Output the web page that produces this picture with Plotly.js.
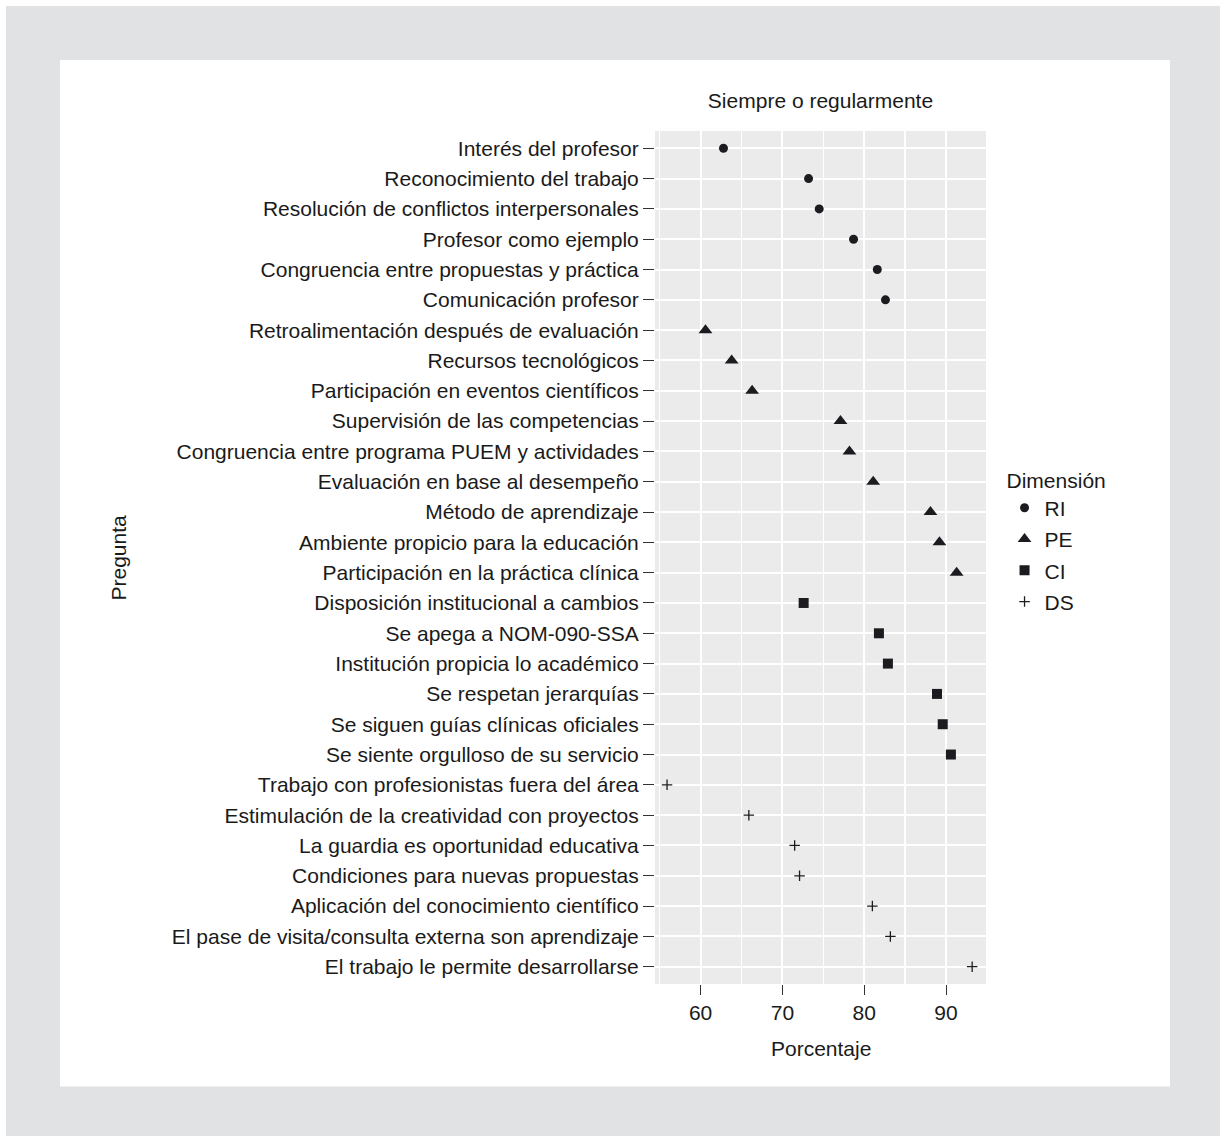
<!DOCTYPE html>
<html>
<head>
<meta charset="utf-8">
<script src="https://cdn.plot.ly/plotly-3.0.1.min.js"></script>
<style>html,body{margin:0;padding:0;background:#fff;}#chart{width:1220px;height:1136px;}</style>
</head>
<body>
<div id="chart"></div>
<script>
const riLabels = ["Interés del profesor","Reconocimiento del trabajo","Resolución de conflictos interpersonales","Profesor como ejemplo","Congruencia entre propuestas y práctica","Comunicación profesor"];
const riValues = [62.8, 73.2, 74.5, 78.7, 81.6, 82.6];
const peLabels = ["Retroalimentación después de evaluación","Recursos tecnológicos","Participación en eventos científicos","Supervisión de las competencias","Congruencia entre programa PUEM y actividades","Evaluación en base al desempeño","Método de aprendizaje","Ambiente propicio para la educación","Participación en la práctica clínica"];
const peValues = [60.6, 63.8, 66.3, 77.1, 78.2, 81.1, 88.1, 89.2, 91.3];
const ciLabels = ["Disposición institucional a cambios","Se apega a NOM-090-SSA","Institución propicia lo académico","Se respetan jerarquías","Se siguen guías clínicas oficiales","Se siente orgulloso de su servicio"];
const ciValues = [72.6, 81.8, 82.9, 88.9, 89.6, 90.6];
const dsLabels = ["Trabajo con profesionistas fuera del área","Estimulación de la creatividad con proyectos","La guardia es oportunidad educativa","Condiciones para nuevas propuestas","Aplicación del conocimiento científico","El pase de visita/consulta externa son aprendizaje","El trabajo le permite desarrollarse"];
const dsValues = [55.9, 65.9, 71.5, 72.1, 81.0, 83.2, 93.2];
const seriesNames = ["RI","PE","CI","DS"];
const xTickVals = [60, 70, 80, 90];

const allLabels = riLabels.concat(peLabels, ciLabels, dsLabels);
const ink = "#1c1c20";
const font = "Liberation Sans, Arial, Helvetica, sans-serif";
const fs = 21;

function tr(name, labels, values, symbol, size, extra) {
  const m = Object.assign({symbol: symbol, size: size, color: ink, line: {width: 0}}, extra || {});
  return {type: "scatter", mode: "markers", name: name, x: values, y: labels,
          marker: m, legendgroup: name, hoverinfo: "x+y"};
}
const data = [
  tr(seriesNames[0], riLabels, riValues, "circle", 9),
  tr(seriesNames[1], peLabels, peValues, "triangle-up", 12),
  tr(seriesNames[2], ciLabels, ciValues, "square", 10),
  tr(seriesNames[3], dsLabels, dsValues, "cross-thin-open", 7.5, {line: {width: 1.3, color: "#2a2a2a"}})
];

const layout = {
  width: 1220, height: 1136,
  paper_bgcolor: "#ffffff",
  plot_bgcolor: "#ebebeb",
  margin: {l: 655, r: 234, t: 131, b: 152, pad: 0},
  font: {family: font, size: fs, color: "#1a1a1a"},
  showlegend: true,
  title: {text: "Siempre o regularmente", font: {family: font, size: fs, color: "#1a1a1a"},
          x: 0.5, xref: "paper", y: 1 - 101/1136, yref: "container", xanchor: "center", yanchor: "middle"},
  xaxis: {range: [54.43, 94.89], tickvals: xTickVals, ticktext: xTickVals.map(String),
          showgrid: true, gridcolor: "#ffffff", gridwidth: 2,
          minor: {tickvals: [55, 65, 75, 85], showgrid: true, gridcolor: "#ffffff", gridwidth: 1.2, ticks: ""},
          ticks: "outside", ticklen: 10, tickwidth: 1, tickcolor: "#333333",
          tickfont: {family: font, size: fs, color: "#1a1a1a"},
          zeroline: false, showline: false, fixedrange: true},
  yaxis: {type: "category", categoryorder: "array", categoryarray: allLabels,
          range: [allLabels.length - 1 + 0.57, -0.57],
          showgrid: true, gridcolor: "#ffffff", gridwidth: 2,
          ticks: "outside", ticklen: 11, tickwidth: 1, tickcolor: "#333333",
          tickfont: {family: font, size: fs, color: "#1a1a1a"},
          zeroline: false, showline: false, fixedrange: true},
  legend: {x: 1.056, xanchor: "left", y: 0.614, yanchor: "top",
           title: {text: "Dimensión", font: {family: font, size: fs, color: "#1a1a1a"}},
           font: {family: font, size: fs, color: "#1a1a1a"},
           bgcolor: "rgba(0,0,0,0)", traceorder: "grouped", tracegroupgap: 1, itemwidth: 30},
  annotations: [
    {text: "Pregunta", xref: "paper", yref: "paper", x: (118 - 655) / 331, y: 0.5, textangle: -90,
     showarrow: false, xanchor: "center", yanchor: "middle", font: {family: font, size: fs, color: "#1a1a1a"}},
    {text: "Porcentaje", xref: "paper", yref: "paper", x: 0.5, y: -(1048 - 984) / 853,
     showarrow: false, xanchor: "center", yanchor: "middle", font: {family: font, size: fs, color: "#1a1a1a"}}
  ]
};

Plotly.newPlot("chart", data, layout, {displayModeBar: false, staticPlot: true}).then(function(gd){
  const svg = gd.querySelector(".main-svg");
  const ns = "http://www.w3.org/2000/svg";
  const g = document.createElementNS(ns, "g");
  const outer = document.createElementNS(ns, "path");
  outer.setAttribute("d", "M6,6H1220V1136H6Z M60,60V1086.5H1170V60Z");
  outer.setAttribute("fill", "#e1e2e4");
  outer.setAttribute("fill-rule", "evenodd");
  g.appendChild(outer);
  const first = svg.querySelector(".bg");
  if (first && first.nextSibling) svg.insertBefore(g, first.nextSibling); else svg.insertBefore(g, svg.firstChild.nextSibling);
});
</script>
</body>
</html>
